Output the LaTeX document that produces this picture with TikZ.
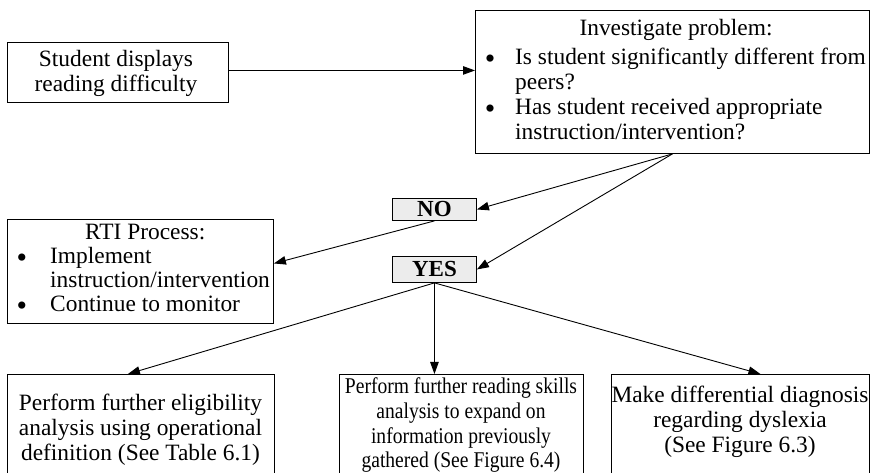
\documentclass[tikz,border=0pt]{standalone}
\usepackage{fontspec}
\setmainfont{Liberation Serif}
\newfontfamily\condfont{Liberation Serif}[FakeStretch=0.87]
\usetikzlibrary{arrows.meta}
\begin{document}
\begin{tikzpicture}[x=1pt,y=-1pt,
  box/.style={draw, line width=0.9pt, inner sep=0pt, anchor=north west},
  lbl/.style={draw, line width=0.9pt, fill=gray!15, inner sep=0pt, anchor=north west,
    font=\fontsize{23}{24}\selectfont\bfseries},
  txt/.style={inner sep=0pt, font=\fontsize{23.4}{25}\selectfont},
  bul/.style={inner sep=0pt, anchor=base, font=\fontsize{30}{30}\selectfont},
  stxt/.style={inner sep=0pt, font=\condfont\fontsize{22.5}{24}\selectfont},
  arr/.style={-{Triangle[length=12pt,width=8.5pt]}, line width=0.9pt}
]
\useasboundingbox (0,0) rectangle (871,473);
\clip (0,0) rectangle (871,473);

% boxes
\node[box, minimum width=221pt, minimum height=60pt] (A) at (7,42) {};
\node[box, minimum width=394pt, minimum height=143pt] (B) at (475,10) {};
\node[lbl, minimum width=84pt, minimum height=22pt] (NO) at (392,198) {NO};
\node[lbl, minimum width=84pt, minimum height=26pt] (YES) at (392,256) {YES};
\node[box, minimum width=266pt, minimum height=104pt] (RTI) at (7,219) {};
\node[box, minimum width=267pt, minimum height=111pt] (L) at (7,374) {};
\node[box, minimum width=244pt, minimum height=111pt] (C) at (339,374) {};
\node[box, minimum width=258pt, minimum height=111pt] (R) at (611,374) {};

% texts of A
\node[txt, anchor=base] (a1) at (116,66.7) {Student displays};
\node[txt, anchor=base] (a2) at (116,91.7) {reading difficulty};

% texts of B
\node[txt, anchor=base] (b0) at (676,36) {Investigate problem:};
\node[bul] (b1d) at (490,69) {\textbullet};
\node[txt, anchor=base west] (b1) at (515,65) {Is student significantly different from};
\node[txt, anchor=base west] (b2) at (515,90) {peers?};
\node[bul] (b3d) at (490,119) {\textbullet};
\node[txt, anchor=base west] (b3) at (515,115) {Has student received appropriate};
\node[txt, anchor=base west] (b4) at (515,140) {instruction/intervention?};

% texts of RTI
\node[txt, anchor=base west] (r0) at (85,240) {RTI Process:};
\node[bul] (r1d) at (22,268) {\textbullet};
\node[txt, anchor=base west] (r1) at (50,264) {Implement};
\node[txt, anchor=base west] (r2) at (50,288) {instruction/intervention};
\node[bul] (r3d) at (22,316) {\textbullet};
\node[txt, anchor=base west] (r3) at (50,312) {Continue to monitor};

% texts of L
\node[txt, anchor=base] (l1) at (140.5,410) {Perform further eligibility};
\node[txt, anchor=base] (l2) at (140.5,435) {analysis using operational};
\node[txt, anchor=base] (l3) at (140.5,460) {definition (See Table 6.1)};

% texts of C
\node[stxt, anchor=base] (c1) at (461,393) {Perform further reading skills};
\node[stxt, anchor=base] (c2) at (461,418) {analysis to expand on};
\node[stxt, anchor=base] (c3) at (461,443) {information previously};
\node[stxt, anchor=base] (c4) at (461,467) {gathered (See Figure 6.4)};

% texts of R
\node[txt, anchor=base] (t1) at (740,402) {Make differential diagnosis};
\node[txt, anchor=base] (t2) at (740,427) {regarding dyslexia};
\node[txt, anchor=base] (t3) at (740,452) {(See Figure 6.3)};

% connectors
\draw[arr] ([yshift=2pt]A.east) -- ([yshift=2pt]A.east -| B.west);
\draw[arr] (B.south) -- (NO.east);
\draw[arr] (B.south) -- (YES.east);
\draw[arr] (NO.south) -- ([yshift=8pt]RTI.east);
\draw[arr] (YES.south) -- ([xshift=-13pt]L.north);
\draw[arr] (YES.south) -- (YES.south |- C.north);
\draw[arr] (YES.south) -- ([xshift=20pt]R.north);
\end{tikzpicture}
\end{document}
